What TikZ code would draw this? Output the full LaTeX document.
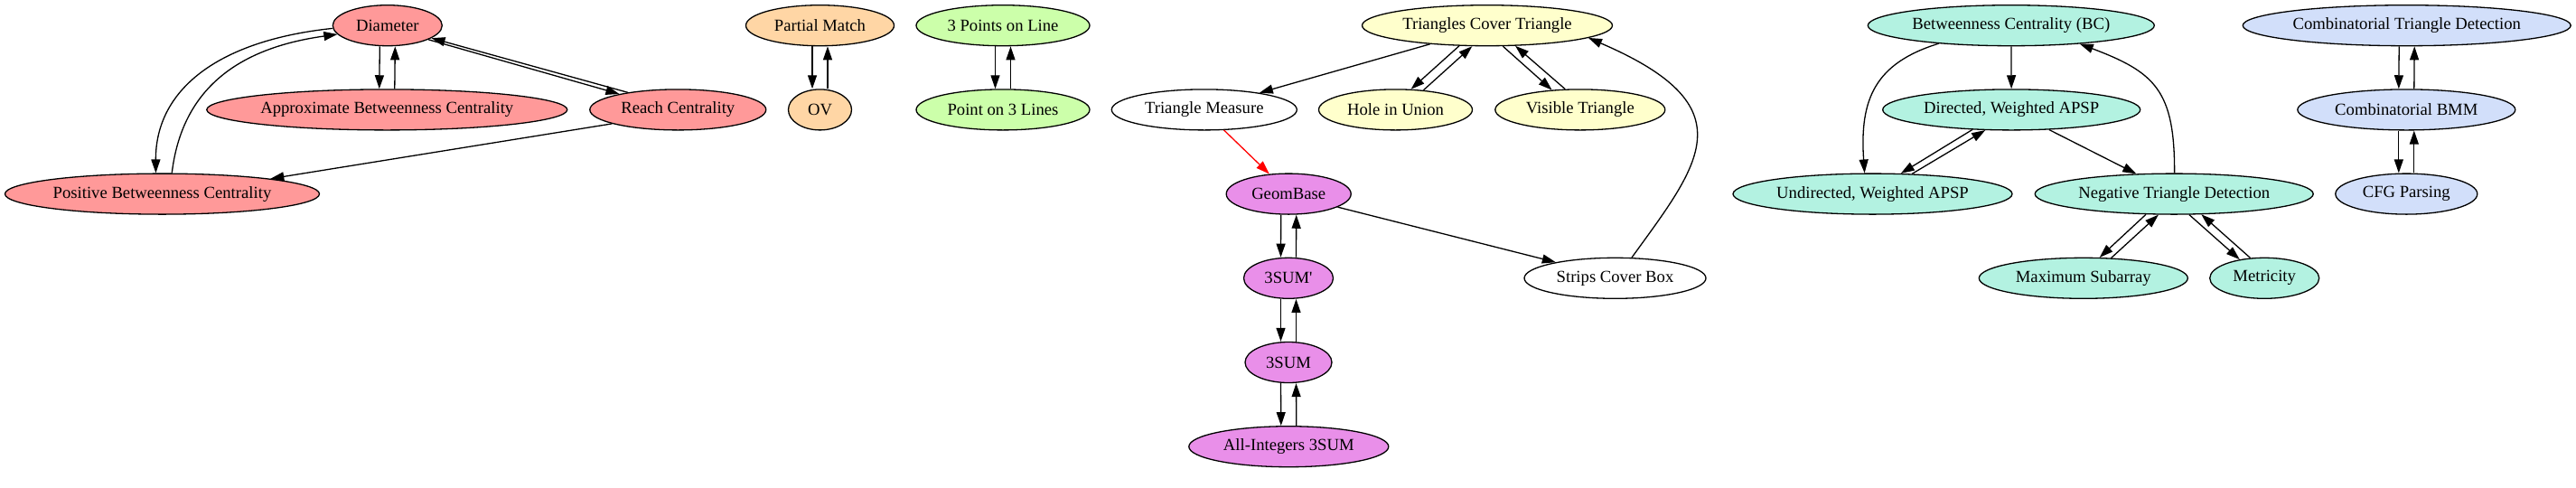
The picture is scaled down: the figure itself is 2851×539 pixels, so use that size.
\documentclass[tikz,border=0pt]{standalone}
\usepackage{fontspec}
\setmainfont{Liberation Serif}
\usepackage{tikz}
\usetikzlibrary{shapes.geometric}
\usetikzlibrary{arrows.meta}

\definecolor{pinkfill}{HTML}{FF9999}
\definecolor{peachfill}{HTML}{FFD6A5}
\definecolor{limefill}{HTML}{CCFFAA}
\definecolor{creamfill}{HTML}{FFFFCC}
\definecolor{violetfill}{HTML}{E98FE9}
\definecolor{mintfill}{HTML}{B3F2E1}
\definecolor{bluefill}{HTML}{D2DFFA}

\tikzset{
  problem/.style={ellipse, draw, line width=1.3pt, inner sep=0pt,
    minimum height=45pt, minimum width=#1,
    font=\fontsize{18.67}{22}\selectfont},
  pinkprob/.style={problem=#1, fill=pinkfill},
  peachprob/.style={problem=#1, fill=peachfill},
  limeprob/.style={problem=#1, fill=limefill},
  creamprob/.style={problem=#1, fill=creamfill},
  violetprob/.style={problem=#1, fill=violetfill},
  mintprob/.style={problem=#1, fill=mintfill},
  blueprob/.style={problem=#1, fill=bluefill},
  plainprob/.style={problem=#1, fill=white},
  reduces/.style={-{Triangle[length=15pt, width=10pt]}, line width=1.3pt}
}

\begin{document}
\begin{tikzpicture}[x=1pt, y=-1pt]

    \useasboundingbox (0,0) rectangle (2851,539);

    % Nodes: centrality cluster
    \node[pinkprob=121pt] (dia) at (428.8,28.2) {Diameter};
    \node[pinkprob=399pt] (abc) at (428.3,121.4) {Approximate Betweenness Centrality};
    \node[pinkprob=195pt] (reach) at (750.3,121.4) {Reach Centrality};
    \node[pinkprob=348pt] (pbc) at (179.5,214.6) {Positive Betweenness Centrality};

    % Nodes: OV and lines
    \node[peachprob=164pt] (pm) at (907.5,28.2) {Partial Match};
    \node[peachprob=70pt] (ov) at (907.5,121.4) {OV};
    \node[limeprob=192pt] (tpl) at (1110,28.2) {3 Points on Line};
    \node[limeprob=192pt] (pol) at (1110,121.4) {Point on 3 Lines};

    % Nodes: geometry
    \node[creamprob=277pt] (tct) at (1646,28.2) {Triangles Cover Triangle};
    \node[plainprob=205pt] (tm) at (1332.8,121.4) {Triangle Measure};
    \node[creamprob=170pt] (hiu) at (1544.5,121.4) {Hole in Union};
    \node[creamprob=188pt] (vt) at (1748.8,121.4) {Visible Triangle};
    \node[violetprob=138pt] (gb) at (1426.2,214.6) {GeomBase};
    \node[violetprob=99pt] (tsp) at (1426,307.8) {3SUM\textquotesingle};
    \node[violetprob=96pt] (tsum) at (1426,401) {3SUM};
    \node[violetprob=221pt] (ai) at (1426.3,494.2) {All-Integers 3SUM};
    \node[plainprob=201pt] (scb) at (1787.5,307.8) {Strips Cover Box};

    % Nodes: APSP
    \node[mintprob=317pt] (bc) at (2225.8,28.2) {Betweenness Centrality (BC)};
    \node[mintprob=285pt] (da) at (2226.2,121.4) {Directed, Weighted APSP};
    \node[mintprob=309pt] (ua) at (2072.5,214.6) {Undirected, Weighted APSP};
    \node[mintprob=308pt] (ntd) at (2406.2,214.6) {Negative Triangle Detection};
    \node[mintprob=231pt] (ms) at (2305.8,307.8) {Maximum Subarray};
    \node[mintprob=121pt] (met) at (2506.2,307.8) {Metricity};

    % Nodes: BMM
    \node[blueprob=363pt] (ctd) at (2663.7,28.2) {Combinatorial Triangle Detection};
    \node[blueprob=241pt] (cbmm) at (2663.3,121.4) {Combinatorial BMM};
    \node[blueprob=157pt] (cfg) at (2663.3,214.6) {CFG Parsing};

    % Edges: centrality
    \draw[reduces] ([xshift=-8.5pt]dia.south) -- ([xshift=-8.5pt]abc.north);
    \draw[reduces] ([xshift=8.5pt]abc.north) -- ([xshift=8.5pt]dia.south);
    \draw[reduces] (dia.341) -- (reach.165);
    \draw[reduces] (reach.161) -- (dia.344);
    \draw[reduces] (dia.183) .. controls (240,45) and (172,100) .. (pbc.107);
    \draw[reduces] (pbc.65) .. controls (200,110) and (250,55) .. (dia.190);
    \draw[reduces] (reach.192) -- (pbc.8);

    % Edges: OV and lines
    \draw[reduces] ([xshift=-8.5pt]pm.south) -- ([xshift=-8.5pt]ov.north);
    \draw[reduces] ([xshift=8.5pt]ov.north) -- ([xshift=8.5pt]pm.south);
    \draw[reduces] ([xshift=-8.5pt]tpl.south) -- ([xshift=-8.5pt]pol.north);
    \draw[reduces] ([xshift=8.5pt]pol.north) -- ([xshift=8.5pt]tpl.south);

    % Edges: geometry
    \draw[reduces] (tct.198) -- (tm.17);
    \draw[reduces] (tct.216) -- (hiu.53);
    \draw[reduces] (hiu.35) -- (tct.234);
    \draw[reduces] (tct.307) -- (vt.145);
    \draw[reduces] (vt.126) -- (tct.324);
    \draw[reduces, red] (tm.314) -- (gb.134);
    \draw[reduces] (gb.345) -- (scb.165);
    \draw[reduces] (scb.51) .. controls (1882,180) and (1935,118) .. (tct.353);
    \draw[reduces] ([xshift=-8.5pt]gb.south) -- ([xshift=-8.5pt]tsp.north);
    \draw[reduces] ([xshift=8.5pt]tsp.north) -- ([xshift=8.5pt]gb.south);
    \draw[reduces] ([xshift=-8.5pt]tsp.south) -- ([xshift=-8.5pt]tsum.north);
    \draw[reduces] ([xshift=8.5pt]tsum.north) -- ([xshift=8.5pt]tsp.south);
    \draw[reduces] ([xshift=-8.5pt]tsum.south) -- ([xshift=-8.5pt]ai.north);
    \draw[reduces] ([xshift=8.5pt]ai.north) -- ([xshift=8.5pt]tsum.south);

    % Edges: APSP
    \draw[reduces] (bc) -- (da);
    \draw[reduces] (bc.194) .. controls (2075,70) and (2058,110) .. (ua.111);
    \draw[reduces] (da.207) -- (ua.36);
    \draw[reduces] (ua.27) -- (da.218);
    \draw[reduces] (da.332) -- (ntd.152);
    \draw[reduces] (ntd.89) .. controls (2407,100) and (2385,80) .. (bc.345);
    \draw[reduces] (ntd.216) -- (ms.52);
    \draw[reduces] (ms.36) -- (ntd.233);
    \draw[reduces] (ntd.306) -- (met.143);
    \draw[reduces] (met.125) -- (ntd.323);

    % Edges: BMM
    \draw[reduces] ([xshift=-8.5pt]ctd.south) -- ([xshift=-8.5pt]cbmm.north);
    \draw[reduces] ([xshift=8.5pt]cbmm.north) -- ([xshift=8.5pt]ctd.south);
    \draw[reduces] ([xshift=-8.5pt]cbmm.south) -- ([xshift=-8.5pt]cfg.north);
    \draw[reduces] ([xshift=8.5pt]cfg.north) -- ([xshift=8.5pt]cbmm.south);

\end{tikzpicture}
\end{document}
